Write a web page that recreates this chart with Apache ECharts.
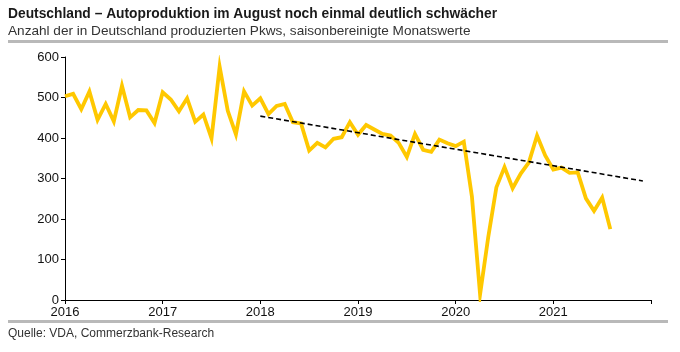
<!DOCTYPE html>
<html>
<head>
<meta charset="utf-8">
<script src="https://cdn.jsdelivr.net/npm/echarts@6/dist/echarts.min.js"></script>
<style>
html,body{margin:0;padding:0;background:#fff;}
#c{width:680px;height:352px;}
</style>
</head>
<body>
<div id="c"></div>
<script>
// ---- data ----
const titleText = 'Deutschland – Autoproduktion im August noch einmal deutlich schwächer';
const subtitleText = 'Anzahl der in Deutschland produzierten Pkws, saisonbereinigte Monatswerte';
const sourceText = 'Quelle: VDA, Commerzbank-Research';
const years = ['2016', '2017', '2018', '2019', '2020', '2021', '2022'];
const monthNums = ['01','02','03','04','05','06','07','08','09','10','11','12'];
const yTicks = [0, 100, 200, 300, 400, 500, 600];

const production2016 = [503, 509, 471, 515, 445, 484, 441, 529, 451, 469, 468, 437];
const production2017 = [513, 495, 466, 498, 440, 458, 399, 576, 467, 409, 515, 480];
const production2018 = [498, 459, 479, 484, 439, 436, 369, 388, 377, 398, 402, 439];
const production2019 = [408, 432, 421, 410, 406, 388, 353, 410, 371, 366, 396, 387];
const production2020 = [380, 391, 255, 14, 155, 278, 328, 276, 312, 340, 406, 357];
const production2021 = [322, 327, 314, 315, 251, 220, 253, 175];

const trendCats = ['2018-01', '2021-12'];
const trendValues = [454, 294];

// ---- build ----
const categories = [];
years.slice(0, 6).forEach(y => monthNums.forEach(m => categories.push(y + '-' + m)));
categories.push('2022-01');
const production = [].concat(production2016, production2017, production2018,
  production2019, production2020, production2021);
const lineData = production.map((v, i) => [categories[i], v]);
const trendData = trendCats.map((c, i) => [c, trendValues[i]]);

const FONT = '"Liberation Sans", Arial, sans-serif';
const chart = echarts.init(document.getElementById('c'), null, {renderer: 'canvas'});
chart.setOption({
  animation: false,
  backgroundColor: '#fff',
  grid: {left: 65, right: 29, top: 57, bottom: 52},
  graphic: [
    {type: 'text', left: 8, top: 7, style: {text: titleText, font: 'bold 13.8px ' + FONT, fill: '#1a1a1a'}},
    {type: 'text', left: 8, top: 24, style: {text: subtitleText, font: '13.6px ' + FONT, fill: '#333'}},
    {type: 'rect', shape: {x: 8, y: 40, width: 660, height: 3}, style: {fill: '#b9b9b9'}},
    {type: 'rect', shape: {x: 8, y: 320, width: 660, height: 3}, style: {fill: '#b9b9b9'}},
    {type: 'text', left: 8, top: 328, style: {text: sourceText, font: '12px ' + FONT, fill: '#333'}}
  ],
  xAxis: {
    type: 'category',
    data: categories,
    boundaryGap: false,
    axisLine: {lineStyle: {color: '#000', width: 1}},
    axisTick: {interval: 11, length: 4, lineStyle: {color: '#000'}},
    axisLabel: {
      interval: 11,
      color: '#111',
      fontFamily: FONT,
      fontSize: 13,
      margin: 6,
      formatter: v => (v.endsWith('-01') && years.indexOf(v.slice(0, 4)) < 6) ? v.slice(0, 4) : ''
    },
    splitLine: {show: false}
  },
  yAxis: {
    type: 'value',
    min: yTicks[0],
    max: yTicks[yTicks.length - 1],
    interval: 100,
    axisLine: {show: true, lineStyle: {color: '#000', width: 1}},
    axisTick: {show: true, length: 4, lineStyle: {color: '#000'}},
    axisLabel: {color: '#111', fontFamily: FONT, fontSize: 13, margin: 6},
    splitLine: {show: false}
  },
  series: [
    {
      type: 'line',
      data: lineData,
      symbol: 'none',
      lineStyle: {color: '#FFC800', width: 3.8, join: 'miter'},
      z: 2
    },
    {
      type: 'line',
      data: trendData,
      symbol: 'none',
      lineStyle: {color: '#000', width: 1.6, type: [5, 3]},
      z: 3
    }
  ]
});
</script>
</body>
</html>
